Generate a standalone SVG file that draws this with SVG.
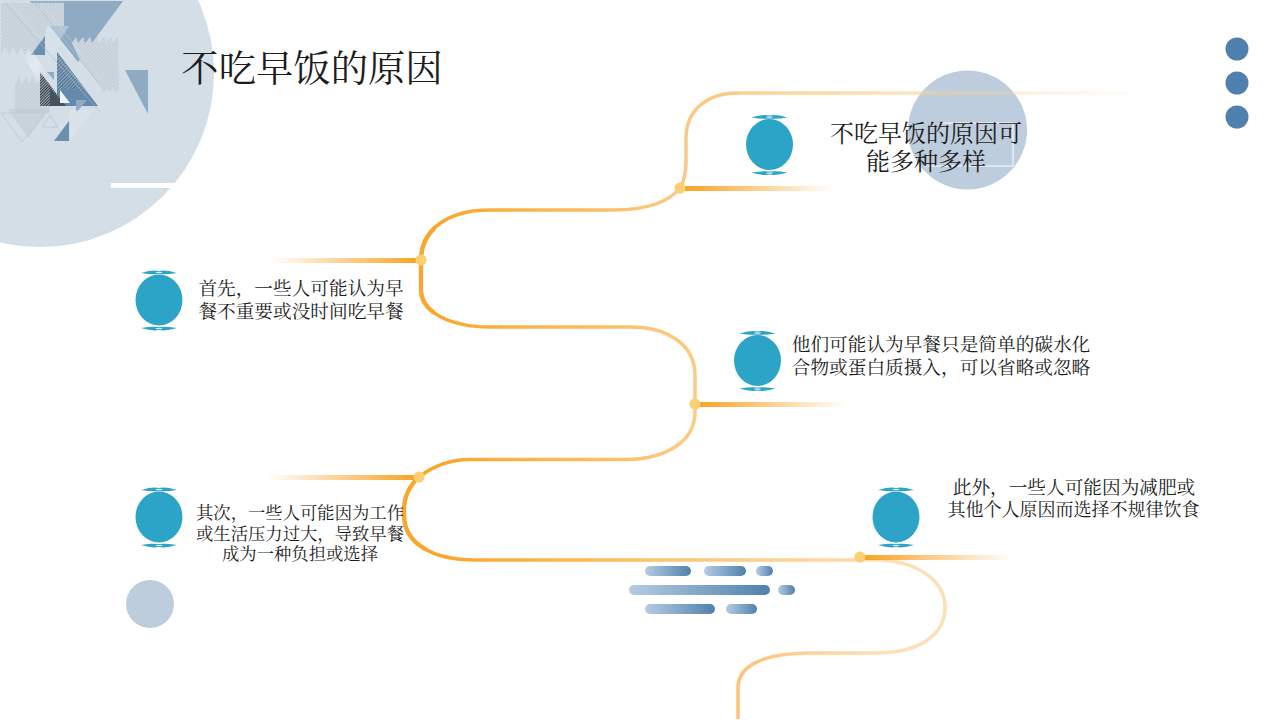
<svg xmlns="http://www.w3.org/2000/svg" width="1280" height="720" viewBox="0 0 1280 720">
<style>
.t{font-family:"Liberation Serif","Noto Serif CJK SC","Noto Sans CJK SC",serif;fill:#1c1c1c;text-anchor:middle}
.s{font-size:18.67px}
.s4{font-size:17.33px}
.s5{font-size:18px}
.line{fill:none;stroke-linecap:butt;stroke-width:3.5px}
.thick{stroke-width:4.3px}
.dot{fill:#fbcf72}
.ball{fill:#2ba4c8}
</style>
<defs>
<linearGradient id="fr" x1="0" x2="1" y1="0" y2="0"><stop offset="0" stop-color="#f9a01e"/><stop offset="1" stop-color="#f9a01e" stop-opacity="0"/></linearGradient>
<linearGradient id="fl" x1="1" x2="0" y1="0" y2="0"><stop offset="0" stop-color="#f9a01e"/><stop offset="1" stop-color="#f9a01e" stop-opacity="0"/></linearGradient>
<linearGradient id="top" gradientUnits="userSpaceOnUse" x1="738" x2="1150" y1="0" y2="0"><stop offset="0" stop-color="#fcd090"/><stop offset="1" stop-color="#fcd090" stop-opacity="0"/></linearGradient>
<linearGradient id="g1" gradientUnits="userSpaceOnUse" x1="680" x2="421" y1="0" y2="0"><stop offset="0" stop-color="#fcca85"/><stop offset="1" stop-color="#f9a424"/></linearGradient>
<linearGradient id="g2" gradientUnits="userSpaceOnUse" x1="421" x2="695" y1="0" y2="0"><stop offset="0" stop-color="#f9a424"/><stop offset="1" stop-color="#fdcb85"/></linearGradient>
<linearGradient id="g3" gradientUnits="userSpaceOnUse" x1="695" x2="419" y1="0" y2="0"><stop offset="0" stop-color="#fdcb85"/><stop offset="1" stop-color="#f9a424"/></linearGradient>
<linearGradient id="g4" gradientUnits="userSpaceOnUse" x1="420" x2="860" y1="0" y2="0"><stop offset="0" stop-color="#f9a424"/><stop offset="1" stop-color="#fddcaa"/></linearGradient>
<linearGradient id="g5" gradientUnits="userSpaceOnUse" x1="880" x2="738" y1="0" y2="0"><stop offset="0" stop-color="#fde0b5"/><stop offset="1" stop-color="#fdc278"/></linearGradient>
<linearGradient id="bar" x1="0" x2="1" y1="0" y2="0"><stop offset="0" stop-color="#b5cce2"/><stop offset="1" stop-color="#4f81ac"/></linearGradient>
<linearGradient id="soft" x1="0" x2="1" y1="0" y2="1"><stop offset="0" stop-color="#fff" stop-opacity="0"/><stop offset=".5" stop-color="#fff" stop-opacity=".4"/><stop offset="1" stop-color="#fff" stop-opacity="0"/></linearGradient>
<pattern id="h1" width="2.500" height="2.500" patternUnits="userSpaceOnUse" patternTransform="rotate(45)"><rect width="2.500" height="2.500" fill="#d0dae2"/><rect width="1" height="2.500" fill="#c0cad4"/></pattern>
<pattern id="h2" width="2.500" height="2.500" patternUnits="userSpaceOnUse" patternTransform="rotate(45)"><rect width="2.500" height="2.500" fill="#4d7394"/><rect width="1" height="2.500" fill="#9bb2c7"/></pattern>
<pattern id="h3" width="2" height="2" patternUnits="userSpaceOnUse" patternTransform="rotate(45)"><rect width="2" height="2" fill="#2f3b47"/><rect width="1" height="2" fill="#a0a8b0"/></pattern>
<pattern id="h4" width="2.500" height="2.500" patternUnits="userSpaceOnUse" patternTransform="rotate(45)"><rect width="2.500" height="2.500" fill="#8faac3"/><rect width="1" height="2.500" fill="#a9bdd0"/></pattern>
<g id="b"><ellipse class="ball" cx="0" cy="-0.500" rx="23.500" ry="25.500"/><path class="ball" d="M-18-27.500Q-6-31 0-29.500Q6-31 18-27.500Q6-25.500 0-26.500Q-6-25.500-18-27.500ZM-18 27.500Q-6 25.500 0 26.500Q6 25.500 18 27.500Q6 31 0 29.500Q-6 31-18 27.500Z"/><ellipse cx="0" cy="-28" rx="3.500" ry=".7" fill="#cfe9f2"/><ellipse cx="0" cy="28" rx="3.500" ry=".7" fill="#cfe9f2"/></g>
</defs>

<g id="decor">
<circle cx="40" cy="73" r="174" fill="#d3dee7"/>
<rect x="111" y="183" width="70" height="5" fill="#fff"/>
<polygon points="30,1 123,1 78,62" fill="#8faac3"/>
<polygon points="30,1 64,1 64,26 47,26" fill="url(#h4)"/>
<path d="M1 3H64V26H47L45 36L31 55L29 47L25 55L21 47L17 55L13 47L9 55L5 47L1 55Z" fill="url(#h1)"/>
<path d="M72 43L76 37L78 43L83 37L85 43L90 37L92 43L97 37L99 43L104 37L106 43L111 37L113 43L118 37L119 88L116 93L113 88L110 93L107 88L104 93L100 86L80 60Z" fill="url(#h1)"/>
<path d="M15 84L19 76L22 84L26 76L29 84L33 76L36 84L40 80V106H50V113H15Z" fill="url(#h1)"/>
<polygon points="47,26 69,26 60,40 78,62 60,45 47,60" fill="#dce5ec" opacity=".45"/>
<polygon points="31,55 45,36 45,55" fill="#6c8fae"/>
<polygon points="125,70 148,70 148,114" fill="#8faac3"/>
<polygon points="57,52 98,106 57,106" fill="#6389ab"/>
<path d="M57 52L84 88L80 92L77 85L74 92L70 85L67 92L63 85L60 92L57 88Z" fill="url(#h2)"/>
<polygon points="40,72 66,106 40,106" fill="url(#h3)"/>
<polygon points="50,88 66,106 50,106" fill="#44525f"/>
<polygon points="60,90 70,103 60,103" fill="#edf2f6"/>
<polygon points="47,72 54,72 54,80" fill="#8faac3"/>
<polygon points="76,100 87,100 76,113" fill="#8faac3"/>
<polygon points="54,141 69,141 69,121" fill="#6c8fae"/>
<polygon points="8,109 50,109 28,138" fill="#b9c3cc" opacity=".4"/>
<polygon points="1,113 45,113 22,142" fill="none" stroke="#bfcbd5" stroke-width="1"/>
<polygon points="42,127 50,115 58,127" fill="none" stroke="#bfcbd5" stroke-width="1"/>
<polygon points="70,141 93,110 70,110" fill="#dfe6ec" opacity=".6"/>
<polygon points="22,55 32,50 46,72 40,82" fill="url(#soft)"/>
<path d="M5 3L100 112M35 3L100 85" stroke="#aebbc7" stroke-width="1" fill="none" opacity=".6"/>
<path d="M10 3L105 112M41 3L106 85" stroke="#e6ecf1" stroke-width="1.200" fill="none" opacity=".25"/>
<circle cx="150" cy="604" r="24" fill="#bdcddd"/>
<circle cx="967.500" cy="130" r="59.500" fill="#bdcddd"/>
<path d="M940 123H1013V166H925" fill="none" stroke="#fff" stroke-width="1"/>
<circle cx="1237" cy="49" r="11.500" fill="#5080ae"/>
<circle cx="1237" cy="83" r="11.500" fill="#5080ae"/>
<circle cx="1237" cy="117" r="11.500" fill="#5080ae"/>
<g fill="url(#bar)">
<rect x="645" y="566" width="46" height="10" rx="5"/>
<rect x="704" y="566" width="42" height="10" rx="5"/>
<rect x="756" y="566" width="17" height="10" rx="5"/>
<rect x="629" y="585" width="141" height="10" rx="5"/>
<rect x="778" y="585" width="17" height="10" rx="5"/>
<rect x="645" y="604" width="70" height="10" rx="5"/>
<rect x="726" y="604" width="31" height="10" rx="5"/>
</g>
</g>

<g id="connectors">
<path class="line" stroke="url(#top)" d="M738 93H1150"/>
<path class="line" stroke="#fcc985" d="M738 93C705 93 686 112 686 138V162C686 175 683 183 680 188"/>
<path class="line" stroke="url(#g1)" d="M680 188C668 203 645 210 613 210H490C450 210 421 228 421 260"/>
<path class="line" stroke="url(#g2)" d="M421 260V290C421 312 450 327 490 327H630C668 327 695 345 695 375V404"/>
<path class="line" stroke="url(#g3)" d="M695 404V412C695 442 665 459.500 625 459.500H470C450 459.500 432 467 419 477"/>
<path class="line" stroke="url(#g4)" d="M419 477C408 487 404 498 404 510V515C404 543 432 560 475 560H860"/>
<path class="line" stroke="url(#g5)" d="M860 560H880C920 562 945 582 945 607C945 635 920 653 875 653H810C765 653 738 665 738 688V719"/>
<path class="line thick" stroke="#f9a82e" pathLength="100" stroke-dasharray="0 28 44 100" d="M490 210C450 210 421 228 421 260V290C421 312 450 327 490 327"/>
<path class="line thick" stroke="#f9a82e" pathLength="100" stroke-dasharray="62 100" d="M419 477C408 487 404 498 404 510V515C404 543 432 560 475 560"/>
<rect x="680" y="186" width="152" height="5" fill="url(#fr)"/>
<rect x="270" y="258" width="151" height="5" fill="url(#fl)"/>
<rect x="695" y="402" width="151" height="5" fill="url(#fr)"/>
<rect x="267" y="475" width="152" height="5" fill="url(#fl)"/>
<rect x="860" y="555" width="152" height="5" fill="url(#fr)"/>
<circle class="dot" cx="680" cy="188" r="5.500"/>
<circle class="dot" cx="421" cy="260" r="5.500"/>
<circle class="dot" cx="695" cy="404" r="5.500"/>
<circle class="dot" cx="419" cy="477" r="5.500"/>
<circle class="dot" cx="860" cy="557" r="5.500"/>
</g>

<g id="title"><text class="t" x="312" y="82" font-size="37.330">不吃早饭的原因</text></g>
<g id="node1"><use href="#b" x="769.500" y="145"/><text class="t" x="926" y="142" font-size="24">不吃早饭的原因可</text><text class="t" x="926" y="170" font-size="24">能多种多样</text></g>
<g id="node2"><use href="#b" x="159" y="300.500"/><text class="t s" x="301" y="295">首先，一些人可能认为早</text><text class="t s" x="301" y="318">餐不重要或没时间吃早餐</text></g>
<g id="node3"><use href="#b" x="757.500" y="361"/><text class="t s" x="941" y="351">他们可能认为早餐只是简单的碳水化</text><text class="t s" x="941" y="374">合物或蛋白质摄入，可以省略或忽略</text></g>
<g id="node4"><use href="#b" x="159" y="517.500"/><text class="t s4" x="300" y="518.500">其次，一些人可能因为工作</text><text class="t s4" x="300" y="539.500">或生活压力过大，导致早餐</text><text class="t s4" x="300" y="559.500">成为一种负担或选择</text></g>
<g id="node5"><use href="#b" x="896" y="517.500"/><text class="t s" x="1074" y="494">此外，一些人可能因为减肥或</text><text class="t s5" x="1073.500" y="516">其他个人原因而选择不规律饮食</text></g>
</svg>
